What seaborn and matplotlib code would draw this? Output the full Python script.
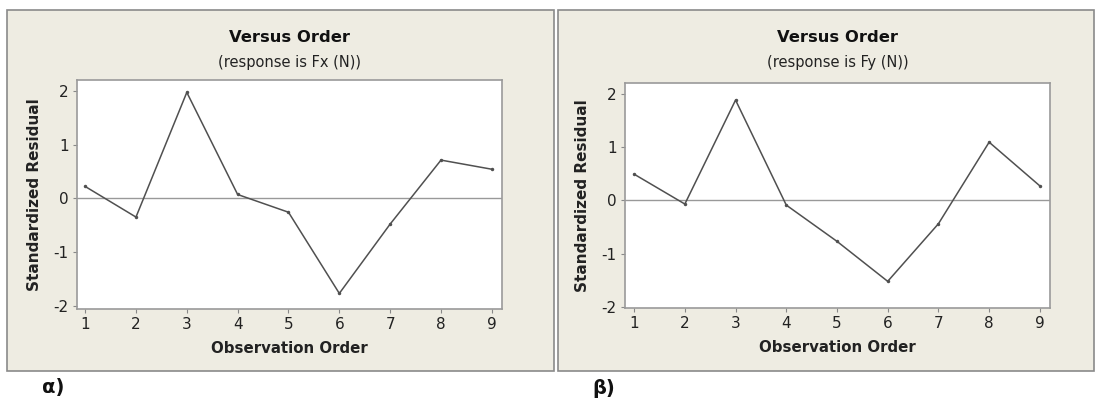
import matplotlib
matplotlib.use("Agg")
import matplotlib.pyplot as plt
from matplotlib.patches import Rectangle
import seaborn as sns
import pandas as pd

# Observation order and standardized residuals
order = [1, 2, 3, 4, 5, 6, 7, 8, 9]
resid_fx = [0.22, -0.35, 1.97, 0.07, -0.26, -1.77, -0.48, 0.71, 0.54]
resid_fy = [0.49, -0.07, 1.88, -0.09, -0.77, -1.52, -0.44, 1.09, 0.27]
subtitles = ["(response is Fx (N))", "(response is Fy (N))"]
panel_tags = ["α)", "β)"]
y_ticks = [-2, -1, 0, 1, 2]

sns.set_theme(style="white")
plt.rcParams['font.family'] = ['DejaVu Sans']
plt.rcParams['axes.unicode_minus'] = False

W, H = 1097, 403
fig = plt.figure(figsize=(W / 100, H / 100), dpi=100)
fig.patch.set_facecolor("white")

panel_bg = "#eeece2"
frame_col = "#8a8a8a"
line_col = "#505050"


def px(x0, y0, x1, y1):
    # pixel box (top-left origin) -> figure fraction [l, b, w, h]
    return [x0 / W, 1 - y1 / H, (x1 - x0) / W, (y1 - y0) / H]


frames = [(7, 10, 554, 371), (558, 10, 1094, 371)]
axes_boxes = [(77, 80, 502, 309), (625, 83, 1050, 308)]
xlims = [(0.84, 9.2), (0.82, 9.2)]
ylims = [(-2.06, 2.2), (-2.02, 2.2)]
tag_pos = [(42, 388), (592, 388)]

for i, resid in enumerate([resid_fx, resid_fy]):
    fx0, fy0, fx1, fy1 = frames[i]
    l, b, w, h = px(fx0, fy0, fx1, fy1)
    fig.patches.append(Rectangle((l, b), w, h, transform=fig.transFigure,
                                 facecolor=panel_bg, edgecolor=frame_col,
                                 linewidth=1.2, zorder=-5))

    ax = fig.add_axes(px(*axes_boxes[i]))
    ax.set_zorder(2)
    ax.set_facecolor("white")
    df = pd.DataFrame({"Observation Order": order, "Standardized Residual": resid})
    sns.lineplot(data=df, x="Observation Order", y="Standardized Residual", ax=ax,
                 color=line_col, linewidth=1.1, marker="o", markersize=2.5,
                 markeredgewidth=0)
    ax.axhline(0, color="#999999", linewidth=1.0, zorder=0)

    ax.set_xlim(*xlims[i])
    ax.set_ylim(*ylims[i])
    ax.set_xticks(order)
    ax.set_yticks(y_ticks)
    ax.tick_params(axis="both", which="both", direction="out", length=3, width=0.8,
                   color="#888888", labelsize=11, labelcolor="#222222", pad=3,
                   bottom=True, left=True)
    for s in ax.spines.values():
        s.set_color("#9a9a9a")
        s.set_linewidth(1.2)

    ax.set_xlabel("Observation Order", fontsize=10.8, fontweight="bold", color="#222222", labelpad=6)
    ax.set_ylabel("Standardized Residual", fontsize=11, fontweight="bold", color="#222222", labelpad=8)

    cx = (axes_boxes[i][0] + axes_boxes[i][2]) / 2
    fig.text(cx / W, 1 - 38 / H, "Versus Order", ha="center", va="center",
             fontsize=11.8, fontweight="bold", color="#111111")
    fig.text(cx / W, 1 - 62 / H, subtitles[i], ha="center", va="center",
             fontsize=10.5, color="#222222")
    fig.text(tag_pos[i][0] / W, 1 - tag_pos[i][1] / H, panel_tags[i], ha="left",
             va="center", fontsize=14, fontweight="bold", color="#111111")

fig.savefig("out.png", dpi=100, facecolor="white")
